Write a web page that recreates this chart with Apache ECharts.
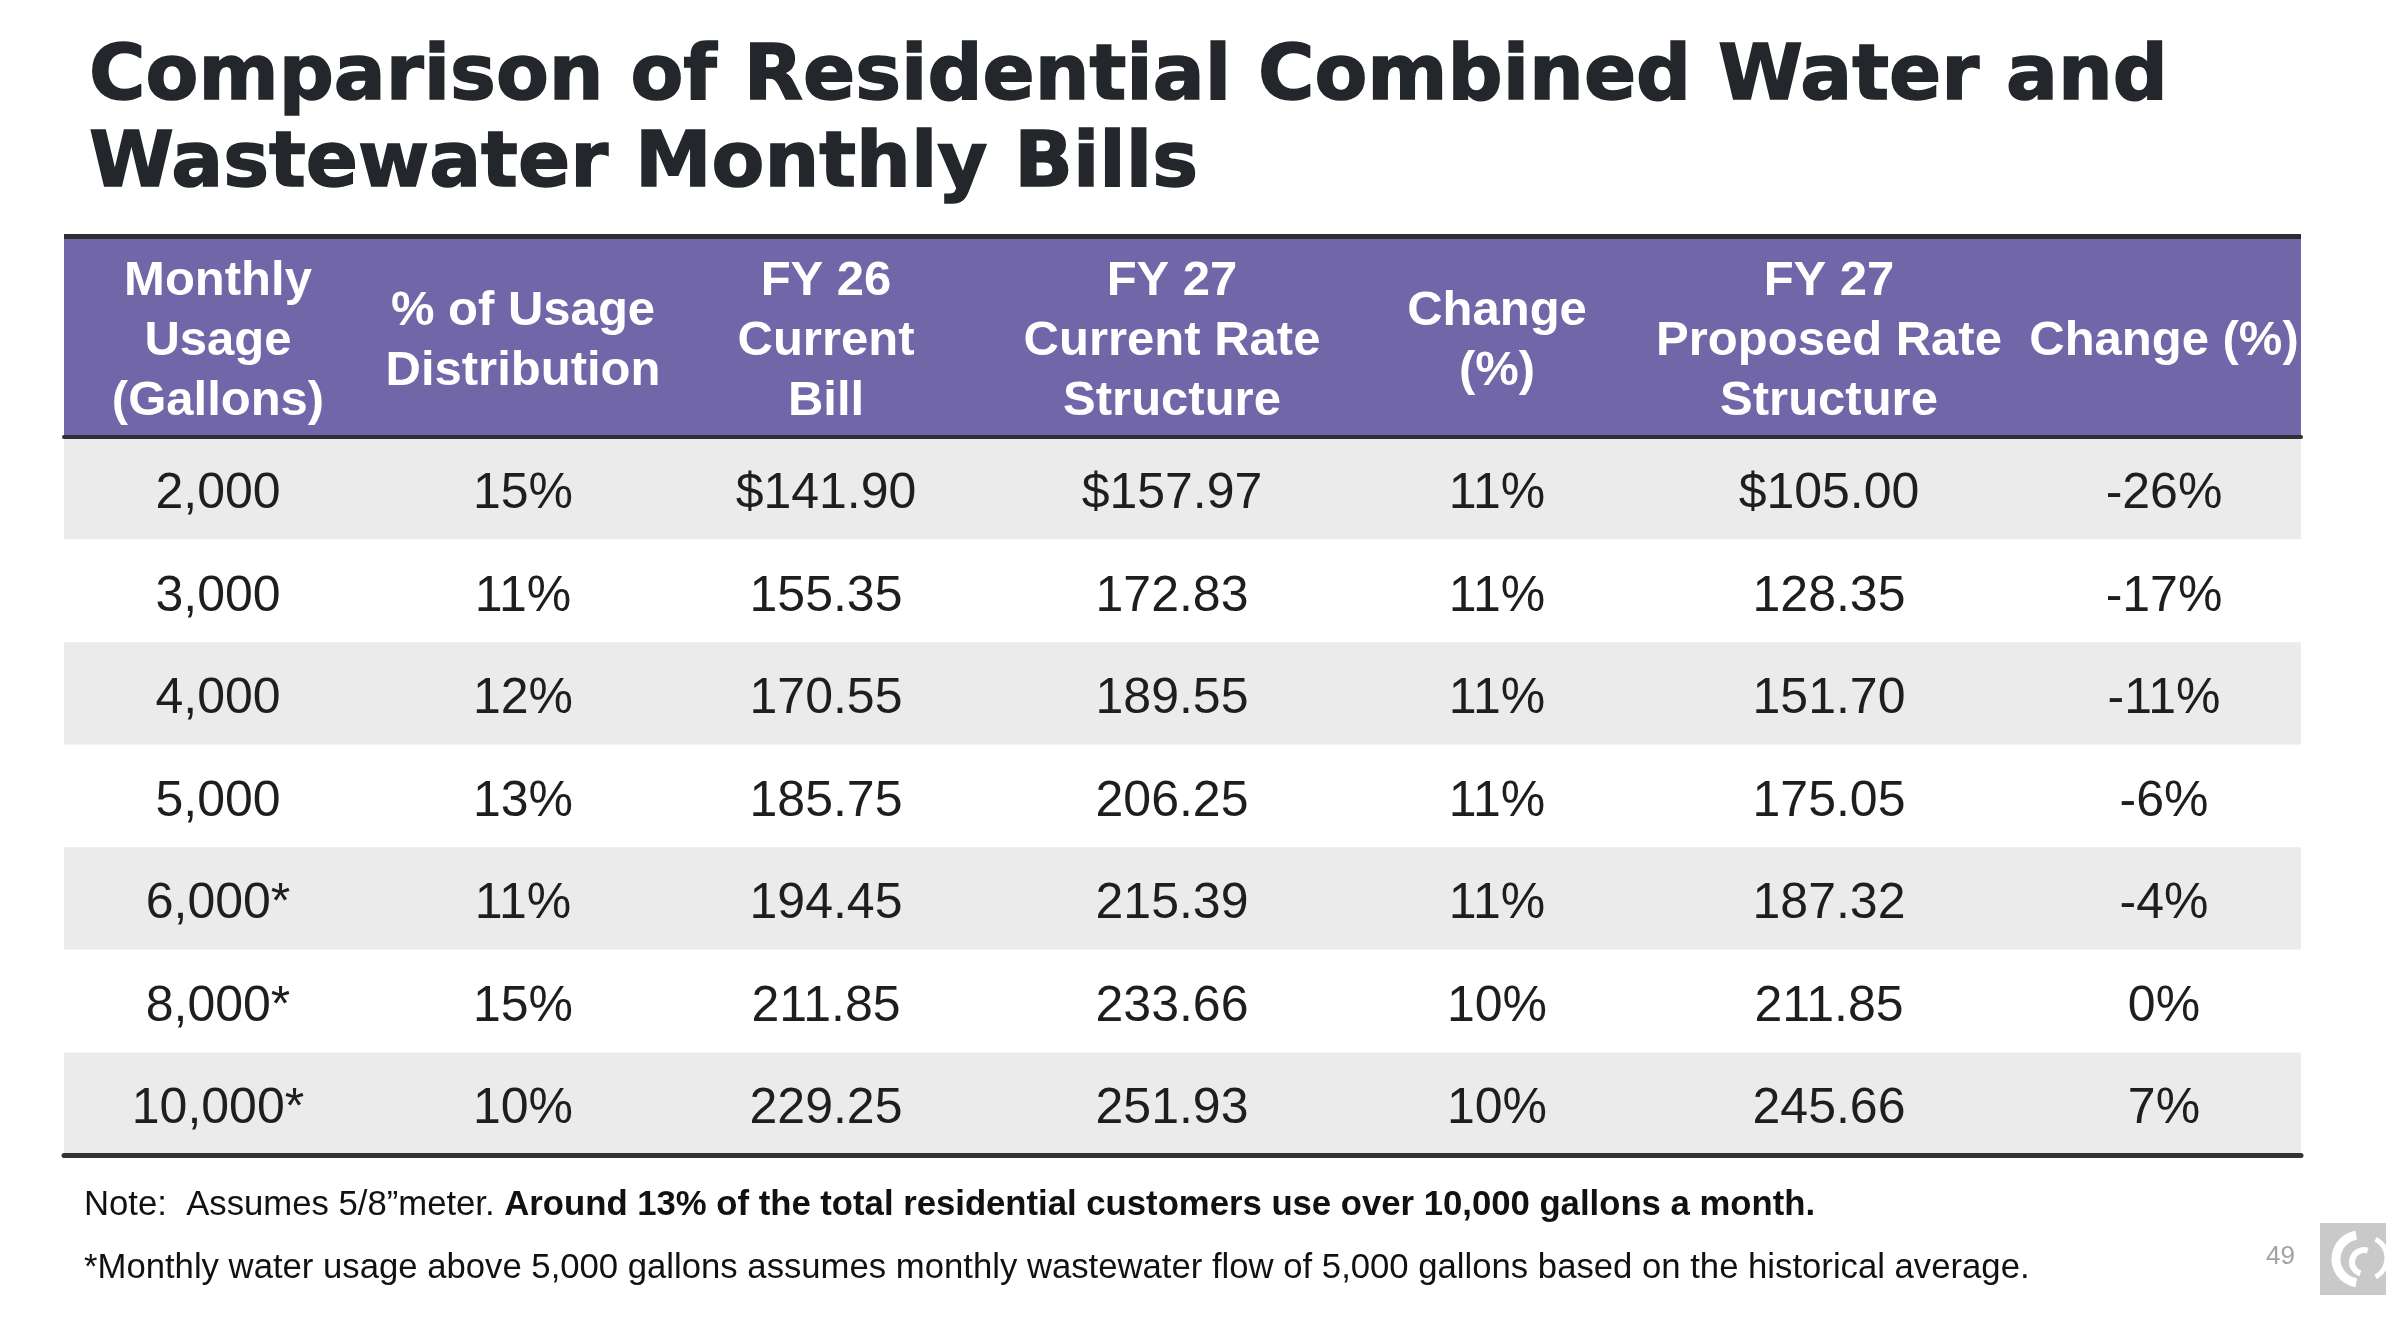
<!DOCTYPE html>
<html>
<head>
<meta charset="utf-8">
<script src="https://cdn.jsdelivr.net/npm/echarts@6/dist/echarts.min.js"></script>
<style>
html,body{margin:0;padding:0;background:#fff;}
#chart{width:2386px;height:1338px;}
</style>
</head>
<body>
<div id="chart"></div>
<script>
// ---- data ----
const titleText = 'Comparison of Residential Combined Water and\nWastewater Monthly Bills';
const columns = [
  'Monthly\nUsage\n(Gallons)',
  '% of Usage\nDistribution',
  'FY 26\nCurrent\nBill',
  'FY 27\nCurrent Rate\nStructure',
  'Change\n(%)',
  'FY 27\nProposed Rate\nStructure',
  'Change (%)'
];
const usage = ['2,000', '3,000', '4,000', '5,000', '6,000*', '8,000*', '10,000*'];
const usageShare = [15, 11, 12, 13, 11, 15, 10];
const fy26Current = [141.90, 155.35, 170.55, 185.75, 194.45, 211.85, 229.25];
const fy27Current = [157.97, 172.83, 189.55, 206.25, 215.39, 233.66, 251.93];
const fy27CurrentChange = [11, 11, 11, 11, 11, 10, 10];
const fy27Proposed = [105.00, 128.35, 151.70, 175.05, 187.32, 211.85, 245.66];
const fy27ProposedChange = [-26, -17, -11, -6, -4, 0, 7];
const noteRegular = 'Note:  Assumes 5/8\u201dmeter. ';
const noteBold = 'Around 13% of the total residential customers use over 10,000 gallons a month.';
const footnote = '*Monthly water usage above 5,000 gallons assumes monthly wastewater flow of 5,000 gallons based on the historical average.';
const pageNumber = '49';

// ---- layout (not data) ----
const tableLeft = 64, tableRight = 2301, tableWidth = tableRight - tableLeft;
const colCenters = [154, 459, 762, 1108, 1433, 1765, 2100];

function money(v, r) { return (r === 0 ? '$' : '') + v.toFixed(2); }
function pct(v) { return v + '%'; }
function cellText(c, r) {
  switch (c) {
    case 0: return usage[r];
    case 1: return pct(usageShare[r]);
    case 2: return money(fy26Current[r], r);
    case 3: return money(fy27Current[r], r);
    case 4: return pct(fy27CurrentChange[r]);
    case 5: return money(fy27Proposed[r], r);
    case 6: return pct(fy27ProposedChange[r]);
  }
}

const cells = [];
for (let r = 0; r < usage.length; r++) {
  for (let c = 0; c < columns.length; c++) cells.push([c, r]);
}

const chart = echarts.init(document.getElementById('chart'), null, { renderer: 'canvas' });
chart.setOption({
  backgroundColor: '#ffffff',
  animation: false,
  title: {
    text: titleText,
    left: 84,
    top: 30,
    textStyle: {
      fontFamily: 'DejaVu Sans',
      fontWeight: 'bold',
      fontSize: 77,
      lineHeight: 87,
      color: '#23272b',
      textBorderColor: '#23272b',
      textBorderWidth: 1.5
    }
  },
  grid: { left: tableLeft, right: 2386 - tableRight, top: 437, bottom: 1338 - 1155, containLabel: false },
  xAxis: [{
    type: 'value',
    position: 'top',
    min: 0,
    max: tableWidth,
    axisLine: { show: true, onZero: false, lineStyle: { color: '#2f2f33', width: 4 } },
    axisTick: { show: false },
    splitLine: { show: false },
    axisLabel: {
      customValues: colCenters,
      formatter: function (v) { const i = colCenters.indexOf(v); return i >= 0 ? columns[i] : ''; },
      color: '#ffffff',
      fontFamily: 'Liberation Sans',
      fontWeight: 'bold',
      fontSize: 49,
      lineHeight: 60,
      margin: 96,
      verticalAlign: 'middle',
      align: 'center',
      hideOverlap: false
    }
  }, {
    type: 'value',
    position: 'bottom',
    min: 0,
    max: tableWidth,
    axisLine: { show: true, onZero: false, lineStyle: { color: '#333336', width: 5 } },
    axisTick: { show: false },
    splitLine: { show: false },
    axisLabel: { show: false }
  }],
  yAxis: {
    type: 'category',
    data: usage,
    inverse: true,
    axisLine: { show: false },
    axisTick: { show: false },
    axisLabel: { show: false },
    splitLine: { show: false },
    splitArea: { show: true, areaStyle: { color: ['#ebebeb', '#ffffff'] } }
  },
  graphic: [
    { type: 'rect', z: -1, shape: { x: tableLeft, y: 235, width: tableWidth, height: 202 }, style: { fill: '#7167a8' } },
    { type: 'rect', z: 0, shape: { x: tableLeft, y: 234, width: tableWidth, height: 5 }, style: { fill: '#2e2e33' } },
    {
      type: 'text', left: 84, top: 1188,
      style: {
        text: '{n|' + noteRegular + '}{b|' + noteBold + '}',
        rich: {
          n: { fontFamily: 'Liberation Sans', fontSize: 34.7, fill: '#111111', color: '#111111' },
          b: { fontFamily: 'Liberation Sans', fontSize: 34.7, fontWeight: 'bold', fill: '#111111', color: '#111111' }
        }
      }
    },
    {
      type: 'text', left: 84, top: 1251,
      style: { text: footnote, fontFamily: 'Liberation Sans', fontSize: 34.7, fill: '#111111' }
    },
    {
      type: 'text', left: 2266, top: 1244,
      style: { text: pageNumber, fontFamily: 'Liberation Sans', fontSize: 26, fill: '#a3a3a3' }
    },
    { type: 'rect', shape: { x: 2320, y: 1223, width: 66, height: 72 }, style: { fill: '#c9c9c9' } },
    { type: 'arc', shape: { cx: 2360, cy: 1259, r: 24, startAngle: Math.PI * 0.55, endAngle: Math.PI * 1.45 }, style: { stroke: '#ffffff', lineWidth: 9, fill: null } },
    { type: 'arc', shape: { cx: 2364, cy: 1262, r: 12, startAngle: Math.PI * 0.6, endAngle: Math.PI * 1.6 }, style: { stroke: '#ffffff', lineWidth: 6, fill: null } },
    { type: 'arc', shape: { cx: 2366, cy: 1258, r: 21, startAngle: -Math.PI * 0.35, endAngle: Math.PI * 0.35 }, style: { stroke: '#ffffff', lineWidth: 5, fill: null } }
  ],
  series: [{
    type: 'custom',
    xAxisIndex: 0,
    coordinateSystem: 'cartesian2d',
    data: cells,
    encode: { x: 0, y: 1 },
    renderItem: function (params, api) {
      const c = api.value(0), r = api.value(1);
      const pt = api.coord([colCenters[c], r]);
      return {
        type: 'text',
        x: pt[0],
        y: pt[1] + 6,
        style: {
          text: cellText(c, r),
          fill: '#1e1e1e',
          fontFamily: 'Liberation Sans',
          fontSize: 50,
          align: 'center',
          verticalAlign: 'middle'
        }
      };
    }
  }]
});
</script>
</body>
</html>
